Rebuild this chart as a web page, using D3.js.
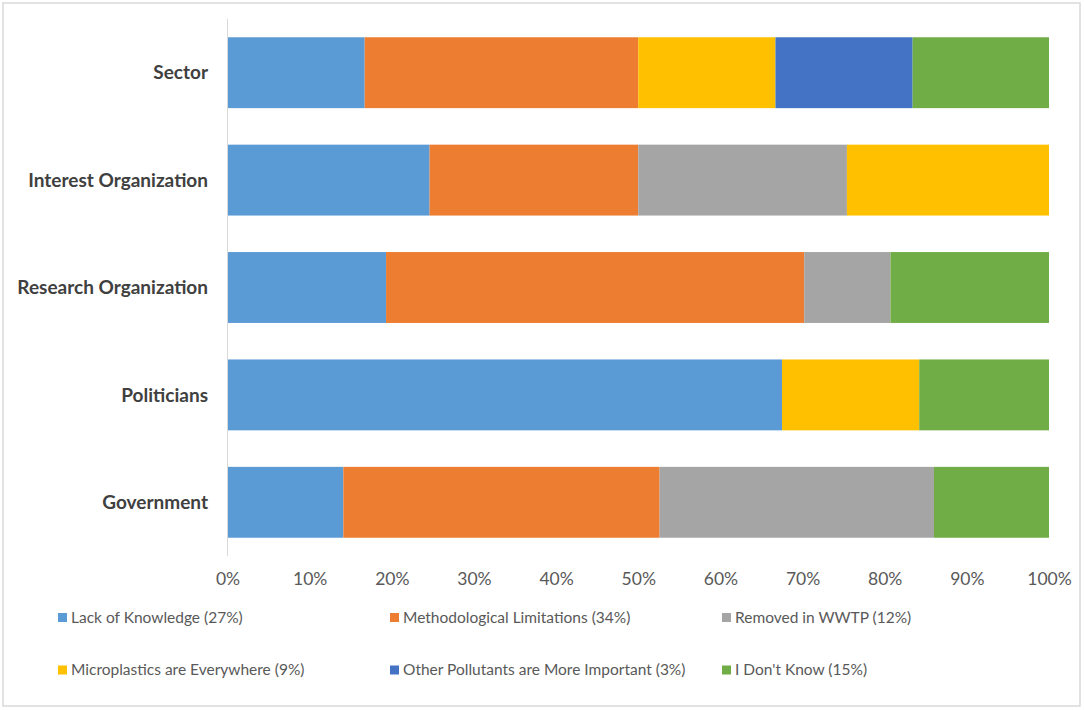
<!DOCTYPE html>
<html>
<head>
<meta charset="utf-8">
<script src="https://cdn.jsdelivr.net/npm/d3@7/dist/d3.min.js"></script>
<style>
  html, body { margin: 0; padding: 0; background: #fff; }
  svg { display: block; font-family: Lato, "Open Sans", sans-serif; }
</style>
</head>
<body>
<svg id="chart" width="1084" height="710"></svg>
<script>
// --- data (percent of each group) ---
const categories = ["Sector", "Interest Organization", "Research Organization", "Politicians", "Government"];
const seriesNames = [
  "Lack of Knowledge (27%)",
  "Methodological Limitations (34%)",
  "Removed in WWTP (12%)",
  "Microplastics are Everywhere (9%)",
  "Other Pollutants are More Important (3%)",
  "I Don't Know (15%)"
];
const lackOfKnowledge   = [16.7, 24.6, 19.3, 67.5, 14.1];
const methodLimitations = [33.3, 25.4, 50.9, 0, 38.5];
const removedInWWTP     = [0, 25.4, 10.5, 0, 33.4];
const everywhere        = [16.7, 24.6, 0, 16.7, 0];
const otherPollutants   = [16.7, 0, 0, 0, 0];
const dontKnow          = [16.6, 0, 19.3, 15.8, 14.0];
const xTicks = [0, 10, 20, 30, 40, 50, 60, 70, 80, 90, 100];

const colors = ["#5b9bd5", "#ed7d31", "#a5a5a5", "#ffc000", "#4472c4", "#70ad47"];

const seriesValues = [lackOfKnowledge, methodLimitations, removedInWWTP, everywhere, otherPollutants, dontKnow];

// rows for d3.stack
const rows = categories.map((c, i) => {
  const r = { category: c };
  seriesNames.forEach((s, j) => { r[s] = seriesValues[j][i]; });
  return r;
});

const svg = d3.select("#chart");

// outer frame
svg.append("rect")
  .attr("x", 3).attr("y", 3)
  .attr("width", 1077).attr("height", 703)
  .attr("fill", "#fff")
  .attr("stroke", "#d9d9d9")
  .attr("stroke-width", 1.5);

const x = d3.scaleLinear().domain([0, 100]).range([227.5, 1049]);
const y = d3.scaleBand().domain(categories).range([19, 556]).paddingInner(0.34).paddingOuter(0.17);

const stacked = d3.stack().keys(seriesNames)(rows);

svg.append("g")
  .selectAll("g")
  .data(stacked)
  .join("g")
  .attr("fill", (d, i) => colors[i])
  .selectAll("rect")
  .data(d => d.filter(p => p[1] - p[0] > 0))
  .join("rect")
  .attr("x", d => x(d[0]))
  .attr("y", d => y(d.data.category))
  .attr("width", d => x(d[1]) - x(d[0]))
  .attr("height", y.bandwidth());

// vertical category axis line
svg.append("line")
  .attr("x1", x(0)).attr("x2", x(0))
  .attr("y1", 19).attr("y2", 556)
  .attr("stroke", "#d9d9d9")
  .attr("stroke-width", 1);

// category labels
svg.append("g")
  .selectAll("text")
  .data(categories)
  .join("text")
  .attr("x", 208)
  .attr("y", d => y(d) + y.bandwidth() / 2)
  .attr("dy", "0.35em")
  .attr("text-anchor", "end")
  .attr("font-size", 19)
  .attr("font-weight", "bold")
  .attr("fill", "#404040")
  .text(d => d);

// x axis tick labels
const xAxis = d3.axisBottom(x)
  .tickValues(xTicks)
  .tickFormat(d => d + "%")
  .tickSize(0)
  .tickPadding(0);

const gx = svg.append("g")
  .attr("transform", "translate(0,573)")
  .call(xAxis);
gx.select(".domain").remove();
gx.selectAll("text")
  .attr("font-family", "Lato, 'Open Sans', sans-serif")
  .attr("font-size", 17.5)
  .attr("fill", "#595959");

// legend
const legendCols = [58, 390, 722];
const legendRows = [617.5, 670];
const legend = svg.append("g")
  .selectAll("g")
  .data(seriesNames)
  .join("g")
  .attr("transform", (d, i) => `translate(${legendCols[i % 3]},${legendRows[Math.floor(i / 3)]})`);

legend.append("rect")
  .attr("x", 0).attr("y", -4.5)
  .attr("width", 9).attr("height", 9)
  .attr("fill", (d, i) => colors[i]);

legend.append("text")
  .attr("x", 13)
  .attr("dy", "0.35em")
  .attr("font-size", 15.5)
  .attr("fill", "#595959")
  .text(d => d);
</script>
</body>
</html>
